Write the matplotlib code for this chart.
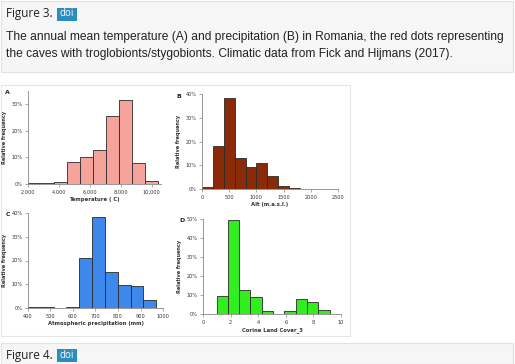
import numpy as np
import matplotlib
matplotlib.use("Agg")
import matplotlib.pyplot as plt
from matplotlib.patches import Rectangle

# ---- data (bin edges + relative frequency in %) ----
temp_edges = [2000, 2840, 3680, 4520, 5360, 6200, 7040, 7880, 8720, 9560, 10400]
temp_freq = [0.5, 0.2, 0.6, 8.4, 10.0, 12.7, 25.5, 31.5, 8.0, 1.2]

alt_edges = [0, 200, 400, 600, 800, 1000, 1200, 1400, 1600, 1800, 2000]
alt_freq = [0.7, 18.3, 38.3, 13.2, 9.3, 11.0, 5.3, 1.4, 0.3, 0.2]

prec_edges = [400, 457, 514, 571, 628, 685, 742, 799, 856, 913, 970]
prec_freq = [0.4, 0.4, 0.0, 0.4, 21.2, 38.2, 15.1, 9.8, 9.3, 3.5]

clc_edges = [0.98, 1.8, 2.62, 3.44, 4.26, 5.08, 5.9, 6.72, 7.54, 8.36, 9.18]
clc_freq = [9.3, 49.7, 12.5, 8.8, 1.6, 0.0, 1.8, 7.9, 6.5, 1.9]

caption = ("The annual mean temperature (A) and precipitation (B) in Romania, the red dots representing\n"
           "the caves with troglobionts/stygobionts. Climatic data from Fick and Hijmans (2017).")

W, H = 515, 364
fig = plt.figure(figsize=(W / 100, H / 100), dpi=100)
fig.patch.set_facecolor("white")


def px_axes(left, top, right, bottom):
    return fig.add_axes([left / W, 1 - bottom / H, (right - left) / W, (bottom - top) / H])


def px_rect(x0, y0, x1, y1, **kw):
    fig.patches.append(Rectangle((x0 / W, 1 - y1 / H), (x1 - x0) / W, (y1 - y0) / H,
                                 transform=fig.transFigure, zorder=-10, **kw))


# ── page chrome: caption box, image frame, next figure box ──────────────
px_rect(0.5, 0.5, 513, 72, facecolor="#f6f6f6", edgecolor="#e2e2e2", lw=0.8)
px_rect(0.5, 85, 350, 336, facecolor="white", edgecolor="#e6e6e6", lw=0.8)
px_rect(0.5, 343, 513, 364, facecolor="#f6f6f6", edgecolor="#e2e2e2", lw=0.8)

for ytop, label in [(14, "Figure 3."), (355, "Figure 4.")]:
    fig.text(6 / W, 1 - ytop / H, label, fontsize=8.5, family="Open Sans",
             color="#222222", va="center", ha="left")
    px_rect(57, ytop - 6.5, 77, ytop + 6.5, facecolor="#2b8cbf", edgecolor="none")
    fig.text(67 / W, 1 - ytop / H, "doi", fontsize=7, family="Open Sans",
             color="white", va="center", ha="center")

fig.text(6 / W, 1 - 45.5 / H, caption, fontsize=8.65, family="Liberation Sans",
         color="#222222", va="center", ha="left", linespacing=1.65)


def hist_panel(ax, edges, freq, color, xlim, xticks, xticklabels, ylim, yticks, xlabel):
    edges = np.asarray(edges, dtype=float)
    ax.bar(edges[:-1], freq, width=np.diff(edges), align="edge",
           color=color, edgecolor="#2a2a2a", linewidth=0.6)
    ax.set_xlim(*xlim)
    ax.set_ylim(*ylim)
    ax.set_xticks(xticks)
    ax.set_xticklabels(xticklabels)
    ax.set_yticks(yticks)
    ax.set_yticklabels([f"{t}%" for t in yticks])
    for s in ("top", "right"):
        ax.spines[s].set_visible(False)
    for s in ("left", "bottom"):
        ax.spines[s].set_color("#888888")
        ax.spines[s].set_linewidth(0.6)
    ax.tick_params(labelsize=3.6, length=2.5, width=0.5, colors="#888888",
                   labelcolor="#333333", pad=1.5)
    ax.set_xlabel(xlabel, fontsize=3.8, fontweight="bold", labelpad=1.5, color="#333333")
    ax.set_ylabel("Relative frequency", fontsize=3.6, fontweight="bold",
                  labelpad=3, color="#333333")
    ax.set_facecolor("none")


axA = px_axes(28, 91, 161, 184)
hist_panel(axA, temp_edges, temp_freq, "#f6a39b", (2000, 10600),
           [2000, 4000, 6000, 8000, 10000], ["2,000", "4,000", "6,000", "8,000", "10,000"],
           (0, 35), [0, 10, 20, 30], "Temperature ( C)")

axB = px_axes(202, 94, 338, 189)
hist_panel(axB, alt_edges, alt_freq, "#8a2a06", (0, 2500),
           [0, 500, 1000, 1500, 2000, 2500], ["0", "500", "1000", "1500", "2000", "2500"],
           (0, 40), [0, 10, 20, 30, 40], "Alt (m.a.s.l.)")

axC = px_axes(28, 213, 163, 308)
hist_panel(axC, prec_edges, prec_freq, "#3d88ea", (400, 1000),
           [400, 500, 600, 700, 800, 900, 1000],
           ["400", "500", "600", "700", "800", "900", "1000"],
           (0, 40), [0, 10, 20, 30, 40], "Atmospheric precipitation (mm)")

axD = px_axes(203, 219, 341, 314)
hist_panel(axD, clc_edges, clc_freq, "#33ee1f", (0, 10),
           [0, 2, 4, 6, 8, 10], ["0", "2", "4", "6", "8", "10"],
           (0, 50), [0, 10, 20, 30, 40, 50], "Corine Land Cover_3")

for x, y, letter in [(5, 93, "A"), (176, 96, "B"), (6, 214, "C"), (179, 220, "D")]:
    fig.text(x / W, 1 - y / H, letter, fontsize=4.5, fontweight="bold",
             color="#222222", va="center", ha="left")

fig.savefig("out.png", dpi=100)
